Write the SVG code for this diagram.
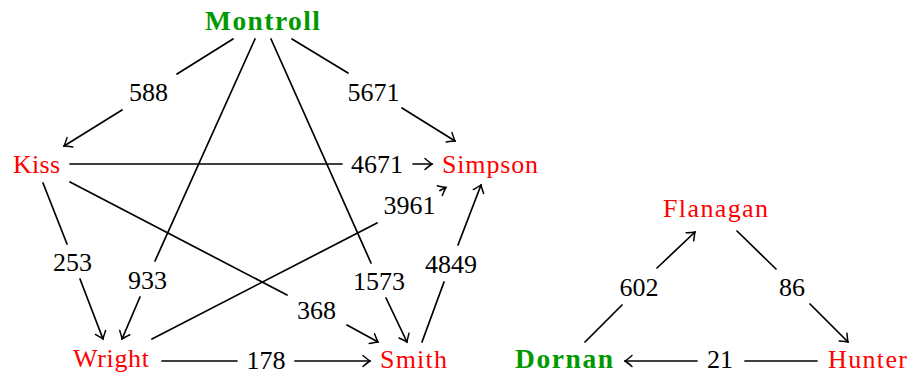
<svg xmlns="http://www.w3.org/2000/svg" width="911" height="373" viewBox="0 0 911 373">
<style>
text { font-family: "Liberation Serif", "Times New Roman", serif; font-size: 26px; text-anchor: middle; }
.red { fill: #ff0000; }
.green { fill: #009900; font-weight: bold; font-size: 27.5px; }
.lbl { fill: #000000; }
.edge { fill: none; stroke: #000000; stroke-width: 1.7; stroke-linecap: round; marker-end: url(#to); }
</style>
<defs>
<marker id="to" markerUnits="userSpaceOnUse" markerWidth="14" markerHeight="14" refX="0" refY="0" orient="auto" overflow="visible" viewBox="-8 -7 10 14">
<path d="M -7 -5.5 Q -2 -1.3 0 0 Q -2 1.3 -7 5.5" fill="none" stroke="#000000" stroke-width="1.5" stroke-linecap="round"/>
</marker>
</defs>
<rect width="911" height="373" fill="#ffffff"/>
<g id="connectors">
<g id="e-montroll-kiss"><path class="edge" d="M233 39 L177 74 M122 110 L64 146"/><text class="lbl" x="148.5" y="101">588</text></g>
<g id="e-montroll-simpson"><path class="edge" d="M292 39 L348 73 M402 108 L455 141"/><text class="lbl" x="373.5" y="101">5671</text></g>
<g id="e-montroll-wright"><path class="edge" d="M255 39 L155 261 M140 297 L122 339"/><text class="lbl" x="147.5" y="289">933</text></g>
<g id="e-montroll-smith"><path class="edge" d="M271 39 L371 263 M386 298 L407 342"/><text class="lbl" x="379" y="290">1573</text></g>
<g id="e-kiss-simpson"><path class="edge" d="M70 164 L342 164 M413 164 L432 164"/><text class="lbl" x="377" y="173">4671</text></g>
<g id="e-kiss-wright"><path class="edge" d="M43 183 L67 244 M80 279 L103 339"/><text class="lbl" x="72.5" y="271">253</text></g>
<g id="e-kiss-smith"><path class="edge" d="M70 182 L287 295 M347 325 L378 342"/><text class="lbl" x="316.5" y="319">368</text></g>
<g id="e-wright-simpson"><path class="edge" d="M152 339 L377 223 M440 190.5 L446 187.4"/><text class="lbl" x="409.5" y="214">3961</text></g>
<g id="e-smith-simpson"><path class="edge" d="M422 342 L444 282 M458 245 L481 185"/><text class="lbl" x="451" y="273">4849</text></g>
<g id="e-wright-smith"><path class="edge" d="M162 361 L237 361 M295 361 L370 361"/><text class="lbl" x="266" y="369">178</text></g>
<g id="e-dornan-flanagan"><path class="edge" d="M585 342 L622 305 M657 268 L695 232"/><text class="lbl" x="639" y="296">602</text></g>
<g id="e-flanagan-hunter"><path class="edge" d="M737 231 L776 269 M810 304 L848 342"/><text class="lbl" x="792" y="296">86</text></g>
<g id="e-hunter-dornan"><path class="edge" d="M817 361 L745 361 M697 361 L625 361"/><text class="lbl" x="720" y="368">21</text></g>
</g>
<g id="montroll"><text class="green" x="262.5" y="30" textLength="115" lengthAdjust="spacing">Montroll</text></g>
<g id="kiss"><text class="red" x="36.5" y="173" textLength="47" lengthAdjust="spacing">Kiss</text></g>
<g id="simpson"><text class="red" x="490" y="173" textLength="96" lengthAdjust="spacing">Simpson</text></g>
<g id="wright"><text class="red" x="111" y="367" textLength="76" lengthAdjust="spacing">Wright</text></g>
<g id="smith"><text class="red" x="413.5" y="368" textLength="67" lengthAdjust="spacing">Smith</text></g>
<g id="flanagan"><text class="red" x="715.5" y="217" textLength="105" lengthAdjust="spacing">Flanagan</text></g>
<g id="dornan"><text class="green" x="564" y="368" textLength="98" lengthAdjust="spacing">Dornan</text></g>
<g id="hunter"><text class="red" x="867.5" y="368" textLength="79" lengthAdjust="spacing">Hunter</text></g>
</svg>
